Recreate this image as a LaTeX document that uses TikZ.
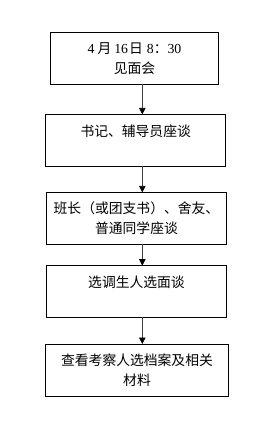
\documentclass[tikz,border=0pt]{standalone}
\usepackage{fontspec}
\setmainfont{Liberation Serif}
\newfontfamily\cjk{Noto Sans CJK SC}
\usetikzlibrary{arrows.meta}
\tikzset{
  flowbox/.style={draw=black, line width=0.9pt, rectangle, outer sep=0pt, inner sep=0pt,
    align=center, font=\cjk\fontsize{13.8}{20}\selectfont},
  flowarrow/.style={draw=black!75, line width=0.8pt, -{Triangle[length=6.5pt,width=6.5pt,color=black,fill=black]}}
}
\newcommand{\dg}[1]{{\rmfamily #1}}
\begin{document}
\begin{tikzpicture}[x=1pt,y=-1pt]
\useasboundingbox (0,0) rectangle (269,440);
\node[flowbox, minimum width=167.6pt, minimum height=51.6pt] (b1) at (134.5,58.5)
  {\dg{4}\hspace{3pt}月\hspace{3pt}\dg{16}\hspace{1pt}日\hspace{4pt}\dg{8}：\dg{30}\\见面会};
\node[flowbox, minimum width=180pt, minimum height=51.7pt] (b2) at (135.7,140.2)
  {书记、辅导员座谈\\\mbox{}};
\node[flowbox, minimum width=179.6pt, minimum height=51.7pt] (b3) at (136.5,218.2)
  {班长（或团支书）、舍友、\\普通同学座谈};
\node[flowbox, minimum width=179.6pt, minimum height=51.3pt] (b4) at (136.5,291.3)
  {选调生人选面谈\\\mbox{}};
\node[flowbox, minimum width=182.6pt, minimum height=52pt] (b5) at (137,370)
  {查看考察人选档案及相关\\材料};
\coordinate (ax) at (142.3,0);
\draw[flowarrow] (b1.south -| ax) -- (b2.north -| ax);
\draw[flowarrow] (b2.south -| ax) -- (b3.north -| ax);
\draw[flowarrow] (b3.south -| ax) -- (b4.north -| ax);
\draw[flowarrow] (b4.south -| ax) -- (b5.north -| ax);
\end{tikzpicture}
\end{document}
